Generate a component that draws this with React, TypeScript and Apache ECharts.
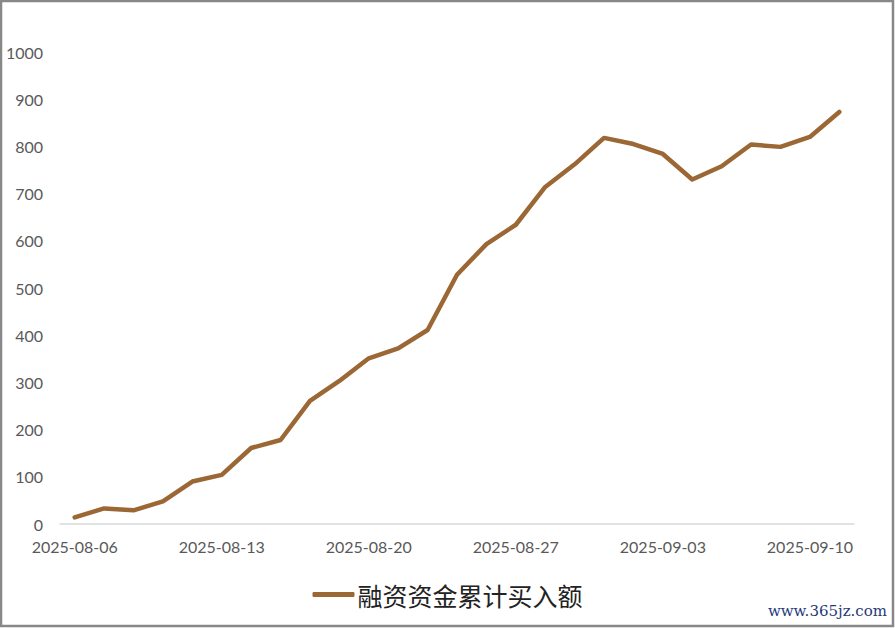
import React, { useEffect, useRef } from "react";
import * as echarts from "echarts";

const categories: string[] = [
  "2025-08-06", "2025-08-07", "2025-08-08", "2025-08-11", "2025-08-12",
  "2025-08-13", "2025-08-14", "2025-08-15", "2025-08-18", "2025-08-19",
  "2025-08-20", "2025-08-21", "2025-08-22", "2025-08-25", "2025-08-26",
  "2025-08-27", "2025-08-28", "2025-08-29", "2025-09-01", "2025-09-02",
  "2025-09-03", "2025-09-04", "2025-09-05", "2025-09-08", "2025-09-09",
  "2025-09-10", "2025-09-11",
];

const cumulativeBuy: number[] = [
  14, 33, 29, 48, 90, 104, 161, 178, 261, 303,
  351, 372, 411, 528, 593, 634, 714, 762, 818, 805,
  784, 730, 758, 804, 799, 820, 873,
];

const seriesName = "融资资金累计买入额";
const yTicks = { min: 0, max: 1000, interval: 100 };
const watermark = "www.365jz.com";

export default function App() {
  const ref = useRef<HTMLDivElement>(null);

  useEffect(() => {
    if (!ref.current) return;
    const chart = echarts.init(ref.current, null, { renderer: "svg" });
    const lineColor = "#9b6734";
    chart.setOption({
      animation: false,
      backgroundColor: "#ffffff",
      grid: { left: 60, right: 41, top: 52, bottom: 104, containLabel: false },
      xAxis: {
        type: "category",
        data: categories,
        boundaryGap: true,
        axisLine: { show: true, lineStyle: { color: "#d9d9d9", width: 1.5 } },
        axisTick: { show: false },
        axisLabel: {
          interval: 4,
          color: "#595959",
          fontFamily: "Lato",
          fontSize: 16,
          margin: 14,
        },
        splitLine: { show: false },
      },
      yAxis: {
        type: "value",
        min: yTicks.min,
        max: yTicks.max,
        interval: yTicks.interval,
        axisLine: { show: false },
        axisTick: { show: false },
        splitLine: { show: false },
        axisLabel: {
          color: "#595959",
          fontFamily: "Lato",
          fontSize: 16,
          margin: 17,
          formatter: (v: number) => String(v),
        },
      },
      legend: {
        show: true,
        left: "center",
        top: 577,
        icon: "roundRect",
        itemWidth: 42,
        itemHeight: 5,
        textStyle: {
          fontFamily: "Noto Sans CJK SC",
          fontSize: 25,
          color: "#222222",
          padding: [0, 0, 0, -2],
        },
        data: [seriesName],
      },
      series: [
        {
          name: seriesName,
          type: "line",
          data: cumulativeBuy,
          symbol: "none",
          smooth: false,
          lineStyle: { color: lineColor, width: 4.5, cap: "round", join: "round" },
          itemStyle: { color: lineColor },
        },
      ],
      graphic: [
        {
          type: "rect",
          shape: { x: 1, y: 1, width: 892, height: 625 },
          style: { fill: "none", stroke: "#888888", lineWidth: 2.5 },
          silent: true,
        },
        {
          type: "text",
          right: 8,
          top: 603,
          style: {
            text: watermark,
            fill: "#1f3a7a",
            font: "15px 'DejaVu Serif'",
          },
          silent: true,
        },
      ],
    });
    return () => chart.dispose();
  }, []);

  return (
    <div style={{ position: "fixed", left: 0, top: 0, width: 895, height: 628 }}>
      <div ref={ref} style={{ width: 895, height: 628 }} />
    </div>
  );
}
